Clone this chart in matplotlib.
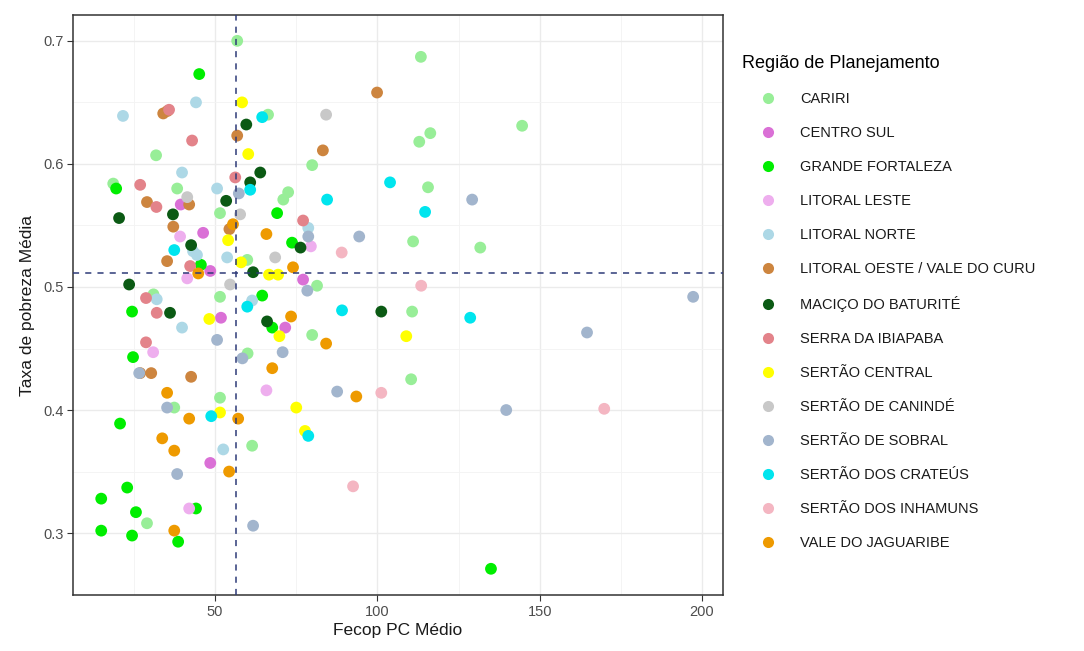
import numpy as np
import matplotlib
matplotlib.use("Agg")
import matplotlib.pyplot as plt
from matplotlib.lines import Line2D

plt.rcParams['font.family'] = ['Liberation Sans', 'DejaVu Sans']

# regiões e cores
regioes = ['CARIRI', 'CENTRO SUL', 'GRANDE FORTALEZA', 'LITORAL LESTE', 'LITORAL NORTE',
           'LITORAL OESTE / VALE DO CURU', 'MACIÇO DO BATURITÉ', 'SERRA DA IBIAPABA',
           'SERTÃO CENTRAL', 'SERTÃO DE CANINDÉ', 'SERTÃO DE SOBRAL', 'SERTÃO DOS CRATEÚS',
           'SERTÃO DOS INHAMUNS', 'VALE DO JAGUARIBE']
cores = ['#98EE98', '#DA70D6', '#00EE00', '#EEAEEE', '#ADD8E6', '#CD853F', '#0B5A14',
         '#E3838A', '#FFFF00', '#C8C8C8', '#A2B5CD', '#00E5EE', '#F4B6C2', '#EE9A00']

# Fecop PC médio (x) e taxa de pobreza média (y) por região
cariri_x = [56.8, 113.4, 144.6, 116.3, 112.9, 31.8, 79.9, 66.3, 72.5, 71.0, 115.6, 111.0, 131.7,
            81.4, 110.7, 79.9, 110.4, 51.5, 51.5, 59.9, 60.0, 61.4, 37.4, 29.0, 51.5, 38.3, 18.6, 31.0]
cariri_y = [0.700, 0.687, 0.631, 0.625, 0.618, 0.607, 0.599, 0.640, 0.577, 0.571, 0.581, 0.537, 0.532,
            0.501, 0.480, 0.461, 0.425, 0.560, 0.492, 0.522, 0.446, 0.371, 0.402, 0.308, 0.410, 0.580, 0.584, 0.494]

csul_x = [39.4, 46.3, 48.5, 51.8, 77.1, 71.6, 48.5]
csul_y = [0.567, 0.544, 0.513, 0.475, 0.506, 0.467, 0.357]

gfor_x = [45.1, 19.5, 69.1, 73.7, 64.5, 67.6, 24.4, 24.7, 45.6, 20.7, 22.9, 14.9, 25.6, 14.9,
          24.4, 38.6, 44.1, 135.0]
gfor_y = [0.673, 0.580, 0.560, 0.536, 0.493, 0.467, 0.480, 0.443, 0.518, 0.389, 0.337, 0.328, 0.317,
          0.302, 0.298, 0.293, 0.320, 0.271]

lleste_x = [39.2, 41.4, 30.9, 65.8, 42.0, 79.5]
lleste_y = [0.541, 0.507, 0.447, 0.416, 0.320, 0.533]

lnorte_x = [21.6, 44.1, 39.8, 50.6, 44.4, 53.7, 43.2, 39.8, 32.0, 52.5, 78.7, 61.4]
lnorte_y = [0.639, 0.650, 0.593, 0.580, 0.526, 0.524, 0.529, 0.467, 0.490, 0.368, 0.548, 0.489]

loeste_x = [34.0, 35.3, 56.8, 99.9, 83.2, 29.0, 42.0, 37.1, 35.2, 54.4, 26.9, 30.3, 42.6]
loeste_y = [0.641, 0.643, 0.623, 0.658, 0.611, 0.569, 0.567, 0.549, 0.521, 0.547, 0.430, 0.430, 0.427]

macico_x = [59.6, 63.9, 60.8, 53.4, 20.4, 37.0, 42.6, 23.5, 36.1, 61.7, 66.0, 76.3, 101.2]
macico_y = [0.632, 0.593, 0.585, 0.570, 0.556, 0.559, 0.534, 0.502, 0.479, 0.512, 0.472, 0.532, 0.480]

ibiapaba_x = [42.9, 26.9, 35.8, 56.2, 31.9, 28.7, 32.0, 28.7, 42.3, 77.1]
ibiapaba_y = [0.619, 0.583, 0.644, 0.589, 0.565, 0.491, 0.479, 0.455, 0.517, 0.554]

scentral_x = [58.3, 60.2, 54.0, 58.0, 48.2, 66.6, 69.4, 69.8, 108.9, 75.0, 77.7, 51.5]
scentral_y = [0.650, 0.608, 0.538, 0.520, 0.474, 0.510, 0.510, 0.460, 0.460, 0.402, 0.383, 0.398]

caninde_x = [84.2, 68.5, 57.7, 54.6, 41.4]
caninde_y = [0.640, 0.524, 0.559, 0.502, 0.573]

sobral_x = [94.4, 78.4, 70.8, 87.6, 129.2, 197.3, 164.6, 139.7, 50.6, 26.6, 58.4, 35.2, 38.3,
            61.7, 57.3, 78.7]
sobral_y = [0.541, 0.497, 0.447, 0.415, 0.571, 0.492, 0.463, 0.400, 0.457, 0.430, 0.442, 0.402, 0.348,
            0.306, 0.576, 0.541]

crateus_x = [64.5, 60.8, 84.5, 103.9, 114.7, 89.1, 59.9, 37.4, 128.6, 78.7, 48.8]
crateus_y = [0.638, 0.579, 0.571, 0.585, 0.561, 0.481, 0.484, 0.530, 0.475, 0.379, 0.395]

inhamuns_x = [89.0, 113.5, 101.2, 92.5, 169.9]
inhamuns_y = [0.528, 0.501, 0.414, 0.338, 0.401]

jaguaribe_x = [65.8, 44.8, 74.0, 73.4, 84.2, 67.6, 93.5, 42.0, 57.1, 33.7, 37.4, 54.3, 37.4, 35.2, 55.5]
jaguaribe_y = [0.543, 0.511, 0.516, 0.476, 0.454, 0.434, 0.411, 0.393, 0.393, 0.377, 0.367, 0.350,
               0.302, 0.414, 0.551]

dados_x = [cariri_x, csul_x, gfor_x, lleste_x, lnorte_x, loeste_x, macico_x, ibiapaba_x,
           scentral_x, caninde_x, sobral_x, crateus_x, inhamuns_x, jaguaribe_x]
dados_y = [cariri_y, csul_y, gfor_y, lleste_y, lnorte_y, loeste_y, macico_y, ibiapaba_y,
           scentral_y, caninde_y, sobral_y, crateus_y, inhamuns_y, jaguaribe_y]

# linhas de referência (médias)
media_x = 56.4
media_y = 0.511

fig = plt.figure(figsize=(10.84, 6.51), dpi=100)
ax = fig.add_axes([73/1084, 1 - 595/651, 650/1084, 580/651])

for xs, ys, cor in zip(dados_x, dados_y, cores):
    ax.scatter(xs, ys, s=72, color=cor, edgecolors='none', zorder=3)

ax.axvline(media_x, color='#2E3A78', lw=1.1, ls=(0, (4, 4)), zorder=4)
ax.axhline(media_y, color='#2E3A78', lw=1.1, ls=(0, (4, 4)), zorder=4)

ax.set_xlim(6.2, 206.5)
ax.set_ylim(0.2497, 0.721)
ax.set_xticks([50, 100, 150, 200])
ax.set_xticks([25, 75, 125, 175], minor=True)
ax.set_yticks([0.3, 0.4, 0.5, 0.6, 0.7])
ax.set_yticks([0.35, 0.45, 0.55, 0.65], minor=True)
ax.set_yticklabels(['0.3', '0.4', '0.5', '0.6', '0.7'])
ax.grid(which='major', color='#EBEBEB', lw=1.0, zorder=0)
ax.grid(which='minor', color='#F3F3F3', lw=0.6, zorder=0)
ax.set_axisbelow(True)
for sp in ax.spines.values():
    sp.set_color('#333333')
    sp.set_linewidth(1.1)
ax.tick_params(which='major', length=4, color='#333333', labelsize=10.5, labelcolor='#4D4D4D', pad=3)
ax.tick_params(which='minor', length=0)

ax.set_xlabel('Fecop PC Médio', fontsize=12.5, color='#1A1A1A', labelpad=3)
ax.set_ylabel('Taxa de pobreza Média', fontsize=12.5, color='#1A1A1A', labelpad=6)

handles = [Line2D([], [], marker='o', ls='none', markersize=8, markerfacecolor=c,
                  markeredgecolor='none') for c in cores]
leg = fig.legend(handles, regioes, loc='upper left', bbox_to_anchor=(735/1084, 1 - 48/651),
                 frameon=False, title='Região de Planejamento', fontsize=10.5,
                 title_fontsize=13, labelspacing=1.37, handlelength=3.5, handletextpad=0.45,
                 borderpad=0, alignment='left')
for t in leg.get_texts():
    t.set_color('#1A1A1A')

fig.savefig('out.png', dpi=100)
